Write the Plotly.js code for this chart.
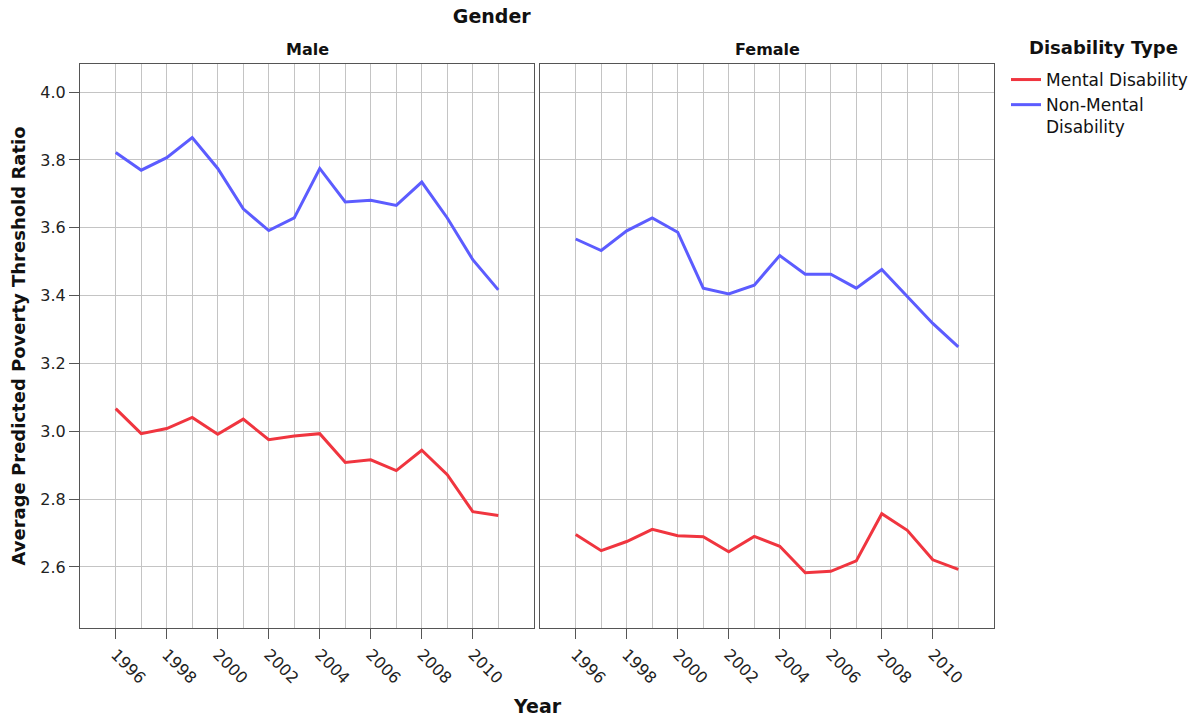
<!DOCTYPE html>
<html>
<head>
<meta charset="utf-8">
<script src="https://cdn.plot.ly/plotly-3.0.1.min.js"></script>
<style>html,body{margin:0;padding:0;background:#fff;}#chart{width:1192px;height:719px;}</style>
</head>
<body>
<div id="chart"></div>
<script>
var years = [1996,1997,1998,1999,2000,2001,2002,2003,2004,2005,2006,2007,2008,2009,2010,2011];
var maleMental = [3.067,2.993,3.008,3.041,2.991,3.036,2.975,2.986,2.993,2.908,2.916,2.884,2.944,2.872,2.763,2.752];
var maleNonMental = [3.822,3.770,3.807,3.866,3.775,3.656,3.592,3.629,3.775,3.676,3.681,3.666,3.735,3.629,3.506,3.417];
var femaleMental = [2.696,2.648,2.675,2.711,2.692,2.689,2.645,2.690,2.661,2.583,2.587,2.618,2.757,2.708,2.621,2.593];
var femaleNonMental = [3.567,3.533,3.591,3.629,3.587,3.422,3.405,3.431,3.518,3.463,3.463,3.422,3.477,3.397,3.318,3.249];
var xTickYears = [1996,1998,2000,2002,2004,2006,2008,2010];
var xMinorYears = [1997,1999,2001,2003,2005,2007,2009,2011];
var yTicks = [2.6,2.8,3.0,3.2,3.4,3.6,3.8,4.0];
var panels = ['Male','Female'];
var seriesNames = ['Mental Disability','Non-Mental<br>Disability'];

var FONT = 'DejaVu Sans, Liberation Sans, Arial, sans-serif';
var RED = '#f0353f', BLUE = '#5c5cff';
var GRID = '#c4c4c4', FRAME = '#555555';

var traces = [
  {x: years, y: maleMental, xaxis:'x', yaxis:'y', name: seriesNames[0], legendgroup:'m', type:'scatter', mode:'lines', line:{color:RED, width:3}},
  {x: years, y: maleNonMental, xaxis:'x', yaxis:'y', name: seriesNames[1], legendgroup:'n', type:'scatter', mode:'lines', line:{color:BLUE, width:3}},
  {x: years, y: femaleMental, xaxis:'x2', yaxis:'y2', name: seriesNames[0], legendgroup:'m', showlegend:false, type:'scatter', mode:'lines', line:{color:RED, width:3}},
  {x: years, y: femaleNonMental, xaxis:'x2', yaxis:'y2', name: seriesNames[1], legendgroup:'n', showlegend:false, type:'scatter', mode:'lines', line:{color:BLUE, width:3}}
];

function xAxis(domain){
  return {
    domain: domain, range:[1994.6, 2012.4], tickmode:'array', tickvals: xTickYears,
    ticktext: xTickYears.map(String), tickangle: 45, ticks:'outside', ticklen:10, tickcolor:FRAME, tickwidth:1,
    showgrid:true, gridcolor:GRID, gridwidth:1, zeroline:false,
    minor:{tickmode:'array', tickvals: xMinorYears, showgrid:true, gridcolor:GRID, gridwidth:1, ticks:''},
    showline:true, linecolor:FRAME, linewidth:1, mirror:true,
    tickfont:{family:FONT, size:16, color:'#222'}, automargin:false, fixedrange:true
  };
}
function yAxis(anchor, labels){
  return {
    anchor: anchor, range:[2.42, 4.083], tickmode:'array', tickvals: yTicks,
    ticktext: yTicks.map(function(v){return v.toFixed(1);}),
    showticklabels: labels, ticks: labels ? 'outside' : '', ticklen:10, tickcolor:FRAME,
    showgrid:true, gridcolor:GRID, gridwidth:1, zeroline:false,
    showline:true, linecolor:FRAME, linewidth:1, mirror:true,
    tickfont:{family:FONT, size:16, color:'#222'}, automargin:false, fixedrange:true
  };
}

var yLeft = yAxis('x', true);
yLeft.title = {text:'Average Predicted Poverty Threshold Ratio', font:{family:FONT, size:18, color:'#111', weight:'bold'}, standoff: 10};
var yRight = yAxis('x2', false);
yRight.matches = 'y';

var layout = {
  width:1192, height:719,
  margin:{l:80, r:198, t:64, b:91, autoexpand:false},
  paper_bgcolor:'#fff', plot_bgcolor:'#fff',
  font:{family:FONT, color:'#111'},
  title:{text:'<b>Gender</b>', x:537/1192, xanchor:'center', xref:'paper', y:1-16/719, yanchor:'middle', yref:'container', font:{family:FONT, size:19, color:'#111'}},
  xaxis: xAxis([0, 454/914]),
  xaxis2: xAxis([460/914, 1]),
  yaxis: yLeft,
  yaxis2: yRight,
  showlegend:true,
  legend:{
    x:(1006-80)/914, xanchor:'left', y:1+(64-62)/564, yanchor:'top',
    font:{family:FONT, size:17, color:'#111'},
    valign:'top', tracegroupgap:0, bgcolor:'rgba(0,0,0,0)', borderwidth:0
  },
  annotations:[
    {text:'<b>Disability Type</b>', xref:'paper', yref:'paper', x:(1027-80)/914, y:1+(64-48)/564, xanchor:'left', yanchor:'middle', showarrow:false, font:{family:FONT, size:18, color:'#111'}},
    {text:'<b>'+panels[0]+'</b>', xref:'paper', yref:'paper', x:(454/914)/2, y:1+(64-50)/564, xanchor:'center', yanchor:'middle', showarrow:false, font:{family:FONT, size:16, color:'#111'}},
    {text:'<b>'+panels[1]+'</b>', xref:'paper', yref:'paper', x:(460/914+1)/2, y:1+(64-50)/564, xanchor:'center', yanchor:'middle', showarrow:false, font:{family:FONT, size:16, color:'#111'}},
    {text:'<b>Year</b>', xref:'paper', yref:'paper', x:0.5, y:(628-706)/564, xanchor:'center', yanchor:'middle', showarrow:false, font:{family:FONT, size:19, color:'#111'}}
  ]
};

Plotly.newPlot('chart', traces, layout, {displayModeBar:false, staticPlot:true});
</script>
</body>
</html>
